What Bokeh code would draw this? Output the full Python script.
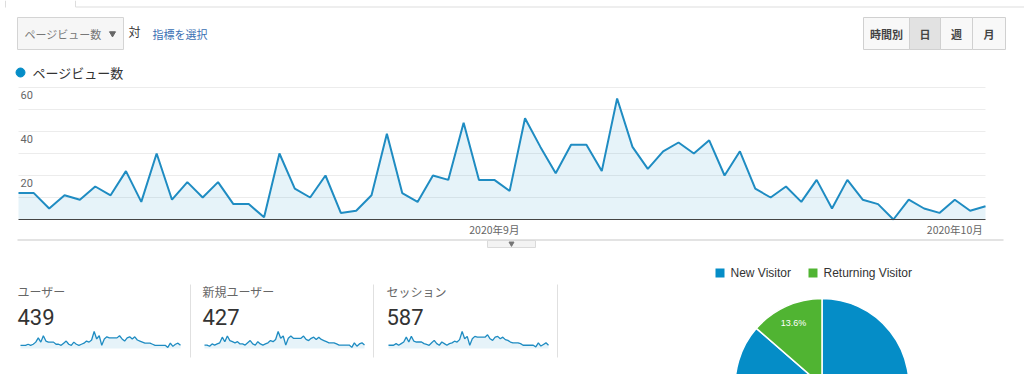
import math
import pandas as pd
from bokeh.plotting import figure
from bokeh.models import Range1d, FixedTicker, CustomJSTickFormatter, DatetimeAxis
from bokeh.core.properties import value
from bokeh.embed import file_html
from bokeh.resources import INLINE

# ---------------- data ----------------
dates = pd.date_range("2020-08-01", periods=64, freq="D")
pageviews = [12, 12, 5, 11, 9, 15, 11, 22, 8, 30,
             9, 17, 10, 17, 7, 7, 1, 30, 14, 10,
             20, 3, 4, 11, 39, 12, 8, 20, 18, 44,
             18, 18, 13, 46, 33, 21, 34, 34, 22, 55,
             33, 23, 31, 35, 30, 36, 20, 31, 14, 10,
             15, 8, 18, 5, 18, 9, 7, 0, 9, 5,
             3, 9, 4, 6]
month_ticks = ["2020-09-01", "2020-10-01"]
y_label_ticks = [20, 40, 60]
y_grid_ticks = [10, 20, 30, 40, 50, 60]

metric_names = ["ユーザー", "新規ユーザー", "セッション"]
metric_totals = ["439", "427", "587"]
users = [3, 3, 3, 4, 3, 4, 6, 10, 6, 12,
         7, 6, 6, 6, 4, 4, 3, 5, 7, 4,
         3, 6, 4, 3, 4, 5, 7, 6, 8, 16,
         9, 12, 3, 9, 11, 10, 10, 10, 10, 12,
         9, 7, 10, 11, 9, 11, 8, 7, 6, 5,
         5, 5, 4, 3, 3, 3, 3, 3, 1, 5,
         2, 4, 5, 3]
new_users = [3, 3, 2, 4, 3, 4, 5, 10, 6, 11,
             7, 6, 5, 6, 4, 4, 3, 5, 7, 4,
             3, 6, 4, 3, 4, 5, 7, 6, 8, 15,
             9, 11, 3, 9, 11, 9, 9, 9, 9, 11,
             8, 7, 9, 10, 8, 10, 8, 7, 6, 5,
             5, 5, 4, 3, 3, 3, 3, 3, 1, 5,
             2, 4, 5, 3]
sessions = [4, 4, 4, 6, 4, 6, 8, 14, 8, 15,
            9, 8, 8, 8, 6, 5, 4, 7, 10, 6,
            4, 8, 6, 4, 6, 7, 9, 8, 11, 21,
            12, 15, 4, 12, 15, 14, 14, 14, 14, 17,
            12, 10, 14, 15, 12, 14, 11, 10, 8, 7,
            7, 7, 6, 4, 4, 4, 4, 4, 2, 7,
            3, 5, 7, 4]
spark_series = [users, new_users, sessions]

visitor_types = ["New Visitor", "Returning Visitor"]
visitor_share = [86.4, 13.6]

# ---------------- styles / layout ----------------
BLUE = "#058dc7"
LINE_BLUE = "#1f8cc2"
GREEN = "#50b432"
JP = value("Noto Sans CJK JP")
W, H = 1024, 374
FX0, FX1 = 0, W        # frame in page pixels (x)
FY0, FY1 = H, 0        # frame in page pixels (y, bottom -> top)


def map_range(a, b, p0, p1, f0, f1):
    s = (b - a) / (p1 - p0)
    return Range1d(a + (f0 - p0) * s, a + (f1 - p0) * s)


t_ms = [d.value / 1e6 for d in dates]
p = figure(width=W, height=H,
           x_range=map_range(t_ms[0], t_ms[-1], 18, 985, FX0, FX1),
           y_range=map_range(0, 60, 219, 87, FY0, FY1),
           x_axis_location=None, y_axis_location=None, min_border=0,
           output_backend="svg", toolbar_location=None)
p.grid.visible = False
p.outline_line_color = None

# page-pixel ranges for interface elements
p.extra_x_ranges["sx"] = Range1d(FX0, FX1)
p.extra_y_ranges["sy"] = Range1d(FY0, FY1)
S = dict(x_range_name="sx", y_range_name="sy")

# ---------------- header ----------------
p.segment(x0=[5, 75, 75], y0=[0, 0, 6.5], x1=[5, 75, 1024], y1=[7, 6.5, 6.5],
          line_color="#dddddd", line_width=1, **S)
p.quad(left=17, right=123, top=17, bottom=49, fill_color="#f6f6f6", line_color="#d4d4d4", **S)
p.text(x=[24], y=[33], text=["ページビュー数"], text_font=JP, text_font_size="11px",
       text_color="#777777", text_baseline="middle", **S)
p.scatter(x=[112], y=[33], marker="inverted_triangle", size=6, color="#666666", **S)
p.text(x=[128], y=[31], text=["対"], text_font=JP, text_font_size="12px",
       text_color="#333333", text_baseline="middle", **S)
p.text(x=[152], y=[33], text=["指標を選択"], text_font=JP, text_font_size="11px",
       text_color="#3a70b3", text_baseline="middle", **S)

btn_left = [863, 909, 940, 972]
btn_right = [909, 940, 972, 1005]
btn_text = ["時間別", "日", "週", "月"]
btn_fill = ["#f8f8f8", "#e2e2e2", "#f8f8f8", "#f8f8f8"]
p.quad(left=btn_left, right=btn_right, top=17, bottom=49, fill_color=btn_fill,
       line_color="#d0d0d0", **S)
p.text(x=[(a + b) / 2 for a, b in zip(btn_left, btn_right)], y=[33] * 4, text=btn_text,
       text_font=JP, text_font_size="11px", text_font_style="bold", text_color="#444444",
       text_align="center", text_baseline="middle", **S)

p.scatter(x=[20], y=[72], marker="circle", size=9, color=BLUE, **S)
p.text(x=[32], y=[72], text=["ページビュー数"], text_font=JP, text_font_size="13px",
       text_color="#333333", text_baseline="middle", **S)

# ---------------- main chart ----------------
p.segment(x0=dates[0], y0=y_grid_ticks, x1=dates[-1], y1=y_grid_ticks,
          line_color="#ececec", line_width=1)
p.varea(x=dates, y1=0, y2=pageviews, fill_color=BLUE, fill_alpha=0.1)
p.line(x=dates, y=pageviews, line_color=LINE_BLUE, line_width=2)
p.text(x=[dates[0]] * len(y_label_ticks), y=y_label_ticks, text=[str(v) for v in y_label_ticks],
       x_offset=2, y_offset=7, text_baseline="middle", text_font=value("Roboto"),
       text_font_size="11px", text_color="#666666")

xa = DatetimeAxis(fixed_location=0, bounds=(t_ms[0], t_ms[-1]))
xa.ticker = FixedTicker(ticks=[pd.Timestamp(t).value / 1e6 for t in month_ticks])
xa.formatter = CustomJSTickFormatter(
    code="const d = new Date(tick); return d.getUTCFullYear() + '年' + (d.getUTCMonth() + 1) + '月';")
xa.axis_line_color = "#444444"
xa.major_tick_line_color = None
xa.minor_tick_line_color = None
xa.major_label_standoff = -4
xa.major_label_text_font = "Noto Sans CJK JP"
xa.major_label_text_font_size = "10.5px"
xa.major_label_text_color = "#666666"
p.add_layout(xa, "below")

# divider and collapse handle
p.segment(x0=17, y0=239.5, x1=1003, y1=239.5, line_color="#dadada", line_width=1.5, **S)
p.quad(left=487, right=535, top=240, bottom=247, fill_color="#f3f3f3", line_color="#dadada", **S)
p.scatter(x=[511], y=[243], marker="inverted_triangle", size=5, color="#777777", **S)

# ---------------- metric panels ----------------
panel_left = [17, 202, 386]
sep_x = [190, 373, 557]
p.segment(x0=sep_x, y0=284, x1=sep_x, y1=357, line_color="#e0e0e0", line_width=1, **S)
p.text(x=panel_left, y=[291] * 3, text=metric_names, text_font=JP, text_font_size="12px",
       text_color="#666666", text_baseline="middle", **S)
p.text(x=panel_left, y=[316] * 3, text=metric_totals, text_font=value("Roboto"),
       text_font_size="22px", text_color="#333333", text_baseline="middle", **S)

spark_left = [20, 204, 388]
idx = list(range(len(users)))
for k, (series, sx) in enumerate(zip(spark_series, spark_left)):
    xr = "spx%d" % k
    yr = "spy%d" % k
    p.extra_x_ranges[xr] = map_range(0, len(series) - 1, sx, sx + 160, FX0, FX1)
    p.extra_y_ranges[yr] = map_range(0, max(series), 348, 331, FY0, FY1)
    p.varea(x=idx, y1=0, y2=series, fill_color=BLUE, fill_alpha=0.1,
            x_range_name=xr, y_range_name=yr)
    p.line(x=idx, y=series, line_color=LINE_BLUE, line_width=1.3,
           x_range_name=xr, y_range_name=yr)

# ---------------- pie ----------------
leg_sq = [715, 808]
p.quad(left=leg_sq, right=[s + 9 for s in leg_sq], top=268, bottom=277,
       fill_color=[BLUE, GREEN], line_color=None, **S)
p.text(x=[730, 823], y=[272, 272], text=visitor_types, text_font=value("Liberation Sans"),
       text_font_size="12px", text_color="#333333", text_baseline="middle", **S)

R = 87
cx, cy = 821.5, 385
p.extra_x_ranges["px"] = Range1d((FX0 - cx) / R, (FX1 - cx) / R)
p.extra_y_ranges["py"] = Range1d((cy - FY0) / R, (cy - FY1) / R)
total = sum(visitor_share)
starts, ends, mids = [], [], []
acc = 0.0
for s in visitor_share:
    a0 = math.pi / 2 - 2 * math.pi * acc / total
    a1 = math.pi / 2 - 2 * math.pi * (acc + s) / total
    starts.append(a0)
    ends.append(a1)
    mids.append((a0 + a1) / 2)
    acc += s
p.wedge(x=0, y=0, radius=1, start_angle=starts, end_angle=ends, direction="clock",
        fill_color=[BLUE, GREEN], line_color="white", line_width=1.5,
        x_range_name="px", y_range_name="py")
# slice labels: only those whose label position lies inside the visible band
lab_r = 0.79
y_visible_min = (cy - FY0) / R + 0.1
lab = [(lab_r * math.cos(m), lab_r * math.sin(m), "%.1f%%" % s)
       for m, s in zip(mids, visitor_share) if lab_r * math.sin(m) > y_visible_min]
p.text(x=[a for a, _, _ in lab], y=[b for _, b, _ in lab], text=[c for _, _, c in lab],
       text_font=value("Liberation Sans"), text_font_size="9px", text_color="white",
       text_align="center", text_baseline="middle", x_range_name="px", y_range_name="py")

open("out.html", "w").write(file_html(p, INLINE))
